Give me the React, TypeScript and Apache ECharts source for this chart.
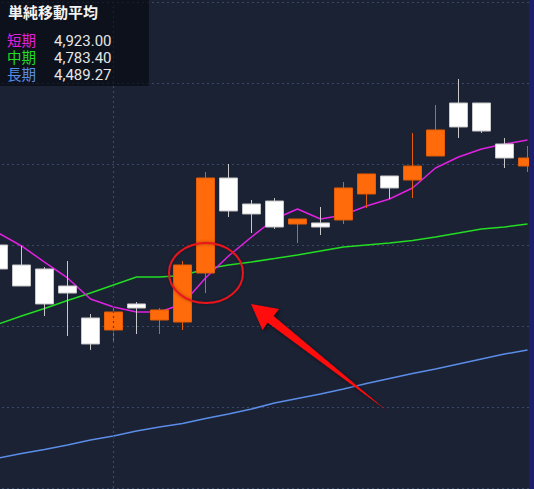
import React, { useEffect, useRef } from "react";
import * as echarts from "echarts";

const categories = [
  "10/25", "10/26", "10/27", "10/28", "10/31", "11/01", "11/02", "11/04",
  "11/07", "11/08", "11/09", "11/10", "11/11", "11/14", "11/15", "11/16",
  "11/17", "11/18", "11/21", "11/22", "11/24", "11/25", "11/28", "11/29",
];

const opens = [4800.0, 4775.3, 4770.4, 4749.4, 4709.9, 4695.1, 4727.2, 4707.4, 4704.9, 4765.4, 4882.7, 4850.6, 4854.3, 4825.9, 4827.2, 4830.9, 4863.0, 4885.2, 4880.2, 4909.9, 4975.3, 4975.3, 4924.7, 4897.5];
const closes = [4770.4, 4749.4, 4727.2, 4740.7, 4677.8, 4717.3, 4722.2, 4719.8, 4775.3, 4882.7, 4842.0, 4838.3, 4822.2, 4832.1, 4822.2, 4870.4, 4887.7, 4870.4, 4897.5, 4942.0, 4945.7, 4940.7, 4907.4, 4907.4];
const lows = [4763.0, 4749.4, 4712.3, 4687.7, 4670.4, 4680.2, 4690.1, 4690.1, 4695.1, 4740.7, 4834.6, 4814.8, 4819.8, 4802.5, 4812.3, 4825.9, 4845.7, 4856.8, 4858.0, 4909.9, 4932.1, 4938.3, 4895.1, 4890.1];
const highs = [4806.2, 4798.8, 4772.8, 4780.2, 4714.8, 4724.7, 4729.6, 4722.2, 4780.2, 4890.1, 4900.0, 4855.6, 4858.0, 4832.1, 4846.9, 4877.8, 4887.7, 4885.2, 4938.3, 4972.8, 5004.9, 4975.3, 4932.1, 4922.2];

const maShort = [4814.8, 4798.8, 4779.0, 4759.3, 4733.3, 4723.5, 4717.3, 4717.3, 4727.2, 4759.3, 4786.4, 4809.9, 4832.1, 4844.4, 4832.1, 4837.0, 4848.1, 4856.8, 4870.4, 4895.1, 4908.6, 4918.5, 4924.7, 4929.6];
const maMid = [4702.5, 4712.3, 4721.6, 4731.5, 4740.7, 4750.6, 4760.5, 4760.5, 4762.4, 4770.4, 4775.3, 4779.0, 4783.3, 4787.7, 4792.6, 4797.5, 4800.0, 4802.5, 4805.6, 4809.9, 4814.8, 4819.8, 4822.2, 4825.9];
const maLong = [4537.0, 4542.6, 4547.5, 4553.1, 4559.3, 4564.2, 4570.4, 4575.3, 4579.6, 4585.8, 4591.4, 4597.5, 4604.9, 4610.5, 4616.1, 4622.2, 4629.0, 4635.2, 4641.4, 4646.9, 4653.1, 4659.3, 4665.4, 4670.4];

const legendTitle = "単純移動平均";
const legendNames = ["短期", "中期", "長期"];
const legendValues = ["4,923.00", "4,783.40", "4,489.27"];
const dividerCategory = "11/01";

const yMin = 4500;
const yMax = 5100;
const yInterval = 100;

const FONT = '"Noto Sans CJK JP", "Noto Sans", sans-serif';
const NAME_FONT = '"Liberation Sans", "Noto Sans CJK JP", sans-serif';
const NUM_FONT = 'Roboto, "Noto Sans", sans-serif';
const colShort = "#e021e0";
const colMid = "#23dc23";
const colLong = "#5b8de8";

// the chart canvas is wider than the visible window and shifted left (first candle is half cut)
const SHIFT = 13;
const CHART_W = 552;

export default function App() {
  const ref = useRef<HTMLDivElement>(null);

  useEffect(() => {
    document.body.style.margin = "0";
    if (!ref.current) return;
    const chart = echarts.init(ref.current, undefined, { renderer: "svg" });

    const candleData = opens.map((o, i) => [o, closes[i], lows[i], highs[i]]);
    const legendColors = [colShort, colMid, colLong];
    const X = (x: number) => x + SHIFT;

    const legendGraphics: any[] = [
      {
        type: "rect",
        shape: { x: X(0), y: 0, width: 149, height: 86 },
        style: { fill: "rgba(4,7,14,0.62)" },
        z: 100,
      },
      {
        type: "text",
        x: X(8),
        y: 11,
        style: {
          text: legendTitle,
          fill: "#f2f2f2",
          font: `bold 15px ${FONT}`,
          verticalAlign: "middle",
          lineHeight: 15,
        },
        z: 101,
      },
    ];
    legendNames.forEach((n, i) => {
      const cy = 40.5 + i * 17;
      legendGraphics.push({
        type: "text",
        x: X(7),
        y: cy,
        style: {
          text: n,
          fill: legendColors[i],
          font: `14.5px ${NAME_FONT}`,
          verticalAlign: "middle",
          lineHeight: 14,
        },
        z: 101,
      });
      legendGraphics.push({
        type: "text",
        x: X(54),
        y: cy,
        style: {
          text: legendValues[i],
          fill: "#e6e6e6",
          font: `15px ${NUM_FONT}`,
          verticalAlign: "middle",
          lineHeight: 14,
        },
        z: 101,
      });
    });

    const option: any = {
      animation: false,
      backgroundColor: "#1b2234",
      grid: { left: 0, right: 0, top: 2, bottom: 1, containLabel: false },
      xAxis: {
        type: "category",
        data: categories,
        boundaryGap: true,
        axisLine: { show: false },
        axisTick: { show: false },
        axisLabel: { show: false },
        splitLine: { show: false },
      },
      yAxis: {
        type: "value",
        min: yMin,
        max: yMax,
        interval: yInterval,
        axisLine: { show: false },
        axisTick: { show: false },
        axisLabel: { show: false },
        splitLine: {
          show: true,
          lineStyle: { color: "#3a4868", type: [2, 3], width: 1.2 },
        },
      },
      series: [
        {
          name: "長期",
          type: "line",
          data: maLong,
          symbol: "none",
          z: 2,
          lineStyle: { color: colLong, width: 1.5 },
          markLine: {
            silent: true,
            symbol: "none",
            label: { show: false },
            lineStyle: { color: "#3a4868", type: [2, 3], width: 1.2 },
            data: [{ xAxis: dividerCategory }],
          },
        },
        {
          name: "中期",
          type: "line",
          data: maMid,
          symbol: "none",
          z: 2,
          lineStyle: { color: colMid, width: 1.5 },
        },
        {
          name: "短期",
          type: "line",
          data: maShort,
          symbol: "none",
          z: 2,
          lineStyle: { color: colShort, width: 1.5 },
        },
        {
          name: "candle",
          type: "candlestick",
          data: candleData,
          barWidth: 19,
          z: 3,
          itemStyle: {
            color: "#ff6a0a",
            color0: "#ffffff",
            borderColor: "#e35d08",
            borderColor0: "#c8c8c8",
            borderWidth: 1,
          },
        },
      ],
      graphic: [
        ...legendGraphics,
        {
          type: "rect",
          shape: { x: X(529), y: 0, width: 20, height: 489 },
          style: { fill: "#1b1f6c" },
          z: 100,
        },
        {
          type: "ellipse",
          shape: { cx: X(206), cy: 273, rx: 37, ry: 30 },
          style: {
            fill: "none",
            stroke: "#e8141e",
            lineWidth: 2,
            shadowBlur: 3,
            shadowColor: "rgba(0,0,0,0.4)",
          },
          z: 90,
        },
        {
          type: "polygon",
          shape: {
            points: [
              [X(251), 304],
              [X(279), 309],
              [X(273.5), 316],
              [X(386), 410],
              [X(267.5), 322.5],
              [X(262.5), 330],
            ],
          },
          style: {
            fill: "#ff0a0a",
            shadowBlur: 4,
            shadowColor: "rgba(0,0,0,0.5)",
            shadowOffsetX: 2,
            shadowOffsetY: 2,
          },
          z: 90,
        },
      ],
    };

    chart.setOption(option);
    return () => chart.dispose();
  }, []);

  return (
    <div style={{ width: 534, height: 489, overflow: "hidden", position: "relative" }}>
      <div
        ref={ref}
        style={{ position: "absolute", left: -SHIFT, top: 0, width: CHART_W, height: 489 }}
      />
    </div>
  );
}
